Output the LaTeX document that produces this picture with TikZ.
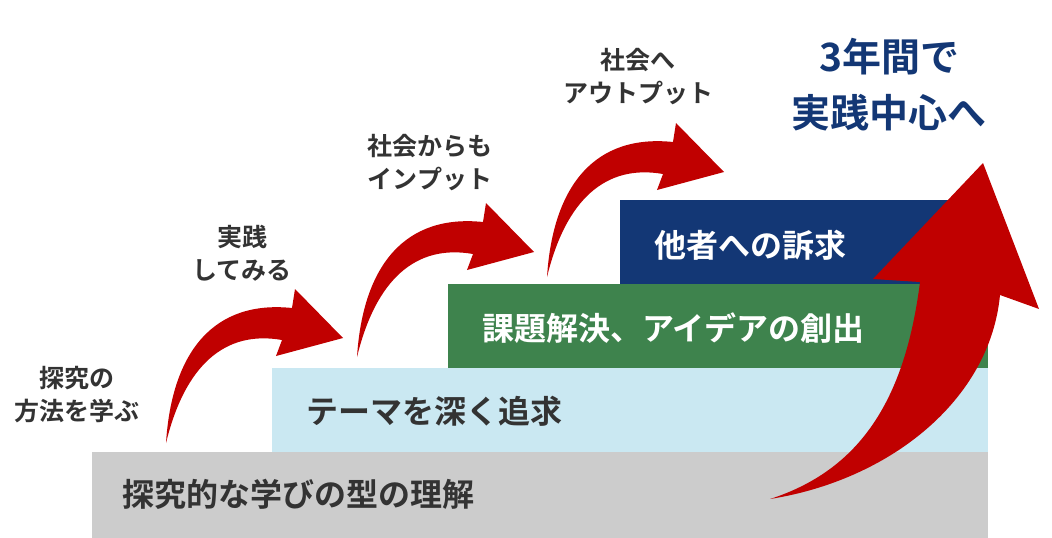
\documentclass[tikz,border=0pt]{standalone}
\usepackage{fontspec}
\setmainfont{Noto Sans CJK JP}[BoldFont={* Bold}]
\usetikzlibrary{positioning}

\definecolor{barGray}{RGB}{204,204,204}
\definecolor{barBlue}{RGB}{202,232,242}
\definecolor{barGreen}{RGB}{62,131,77}
\definecolor{barNavy}{RGB}{19,55,117}
\definecolor{arrowRed}{RGB}{192,0,0}
\definecolor{textDark}{RGB}{51,51,51}

\begin{document}
\begin{tikzpicture}[x=1pt,y=-1pt]
        \tikzstyle{bartext}=[anchor=west, inner sep=0pt, font=\fontsize{32}{36}\selectfont\bfseries]
        \tikzstyle{steplabel}=[align=center, inner sep=0pt, text=textDark, font=\fontsize{25}{33}\selectfont\bfseries]
        \tikzstyle{redarrow}=[fill=arrowRed]

        \useasboundingbox (0,0) rectangle (1052,538);

        \fill[barGray] (92,452) rectangle (988,538);
        \fill[barBlue] (272,368) rectangle (988,452);
        \fill[barGreen] (448,284) rectangle (988,368);
        \fill[barNavy] (620,200) rectangle (988,284);

        \node[bartext, text=textDark] (base) at (122,494) {探究的な学びの型の理解};
        \node[bartext, text=textDark] (theme) at (306,411) {テーマを深く追求};
        \node[bartext, text=white] (idea) at (482,328) {課題解決、アイデアの創出};
        \node[bartext, text=white] (appeal) at (654,245) {他者への訴求};

        \foreach \dx/\dy in {0/0,191/-86,381/-166}
            \fill[redarrow, shift={(\dx,\dy)}] (166,443) .. controls (172,350) and (215,300) .. (292,308)
                -- (295,289) -- (343,338) -- (276,356) -- (282,340)
                .. controls (225,330) and (185,365) .. (166,443) -- cycle;

        \fill[redarrow] (770,499) .. controls (890,480) and (990,400) .. (1000,295)
            -- (1039,309) -- (983,163) -- (873,279) -- (920,282)
            .. controls (905,400) and (860,470) .. (770,499) -- cycle;

        \node[steplabel] (method) at (77,395) {探究の\\方法を学ぶ};
        \node[steplabel] (practice) at (242,253) {実践\\してみる};
        \node[steplabel] (input) at (430,163) {社会からも\\インプット};
        \node[steplabel] (output) at (638,77) {社会へ\\アウトプット};

        \node[align=center, inner sep=0pt, text=barNavy, font=\fontsize{39}{56}\selectfont\bfseries] (goal) at (889,85) {3年間で\\実践中心へ};
\end{tikzpicture}
\end{document}
